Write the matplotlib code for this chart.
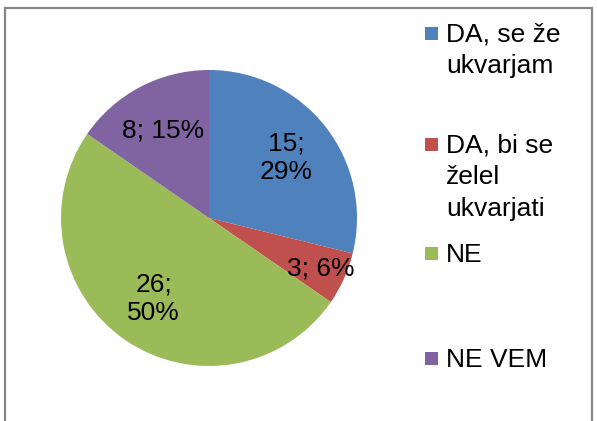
import numpy as np
import matplotlib
matplotlib.use("Agg")
import matplotlib.pyplot as plt
from matplotlib.patches import Rectangle

categories = ["DA, se že\nukvarjam", "DA, bi se\nželel\nukvarjati", "NE", "NE VEM"]
counts = [15, 3, 26, 8]
percents = [29, 6, 50, 15]
pie_labels = ["15;\n29%", "3; 6%", "26;\n50%", "8; 15%"]
colors = ["#4F81BD", "#C0504D", "#9BBB59", "#8064A2"]

plt.rcParams['font.family'] = ['Liberation Sans', 'DejaVu Sans']
FS = 19

W, H = 597, 421
fig = plt.figure(figsize=(W / 100, H / 100), dpi=100)

# outer frame
fig.patches.append(Rectangle((5 / W, -0.05), 587 / W, 1.05 - 8 / H, transform=fig.transFigure,
                             fill=False, edgecolor="#868686", linewidth=1.6))

cx, cy, R = 209, 218, 148
ax = fig.add_axes([(cx - R) / W, (H - cy - R) / H, 2 * R / W, 2 * R / H])
wedges, _ = ax.pie(counts, colors=colors, startangle=90, counterclock=False,
                   wedgeprops=dict(linewidth=0))
ax.set_xlim(-1, 1)
ax.set_ylim(-1, 1)
ax.set_aspect('equal')
ax.axis('off')

dists = [0.66, 0.83, 0.66, 0.67]
total = sum(counts)
ang = 90.0
for v, lab, d in zip(counts, pie_labels, dists):
    span = v / total * 360
    mid = np.deg2rad(ang - span / 2)
    ax.text(d * np.cos(mid), d * np.sin(mid), lab, ha='center', va='center',
            fontsize=FS, linespacing=1.25)
    ang -= span

# legend
first_baseline = [41.7, 152.7, 261.7, 366.7]  # pixel y
line_step = 31.8
for lab, c, by in zip(categories, colors, first_baseline):
    fig.patches.append(Rectangle((425 / W, 1 - (by - 2) / H), 12.5 / W, 12.5 / H,
                                 transform=fig.transFigure, facecolor=c, edgecolor='none'))
    for i, line in enumerate(lab.split("\n")):
        fig.text(446 / W, 1 - (by + i * line_step) / H, line, ha='left', va='baseline',
                 fontsize=FS)

fig.savefig("out.png", dpi=100)
